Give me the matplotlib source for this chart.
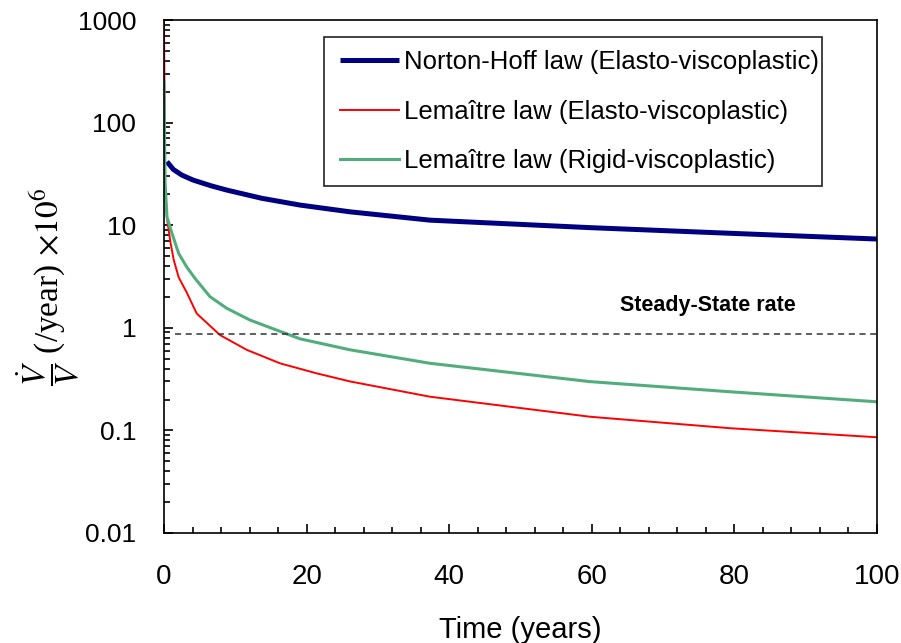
import numpy as np
import matplotlib
matplotlib.use('Agg')
import matplotlib.pyplot as plt
from matplotlib.ticker import MultipleLocator, LogLocator, NullFormatter
from matplotlib.patches import Rectangle

plt.rcParams['font.family'] = ['Liberation Sans', 'DejaVu Sans']
plt.rcParams['mathtext.fontset'] = 'stix'

# 그림에서 읽은 값 (years, rate x1e-6 /year)
t_norton = [0.42, 1.3, 2.5, 4.1, 6.7, 8.8, 13.7, 19.1, 26.1, 37.3, 59.7, 79.4, 100]
v_norton = [41.6, 35, 30.8, 27.5, 24.1, 22, 18.3, 15.7, 13.5, 11.2, 9.47, 8.34, 7.33]

t_lem_ev = [0, 0.15, 0.42, 0.89, 1.36, 2.06, 3.2, 4.58, 7.85, 11.6, 16.3, 21.4,
            26.1, 37.3, 59.7, 79.4, 100]
v_lem_ev = [1000, 25, 11.7, 6.9, 4.6, 3.1, 2.2, 1.38, 0.85, 0.61, 0.45, 0.36,
            0.30, 0.213, 0.136, 0.105, 0.0857]

t_lem_rv = [0, 0.15, 0.42, 1.1, 2.06, 3.2, 4.4, 6.45, 8.8, 12.06, 15.8, 19.1,
            26.1, 37.3, 59.7, 79.4, 100]
v_lem_rv = [250, 26, 12, 8.4, 5.3, 3.9, 3.0, 2.01, 1.55, 1.19, 0.95, 0.78,
            0.61, 0.451, 0.299, 0.238, 0.19]

ss_rate = 0.865
ss_t = [1.5, 100]

labels = ['Norton-Hoff law (Elasto-viscoplastic)',
          'Lemaître law (Elasto-viscoplastic)',
          'Lemaître law (Rigid-viscoplastic)']

fig = plt.figure(figsize=(9.01, 6.43), dpi=100)
ax = fig.add_axes([164/901, 110/643, 713/901, 513/643])

l1, = ax.plot(t_norton, v_norton, color='#000080', lw=3.6, solid_capstyle='butt')
l2, = ax.plot(t_lem_ev, v_lem_ev, color='#ff0000', lw=1.4)
l3, = ax.plot(t_lem_rv, v_lem_rv, color='#52ad7c', lw=2.2)
ax.plot(ss_t, [ss_rate, ss_rate], color='#333333', lw=1.1, dashes=(4, 3))

ax.set_yscale('log')
ax.set_xlim(0, 100)
ax.set_ylim(0.01, 1000)

ax.set_yticks([0.01, 0.1, 1, 10, 100, 1000])
ax.set_yticklabels(['0.01', '0.1', '1', '10', '100', '1000'])
ax.yaxis.set_minor_locator(LogLocator(base=10, subs=np.arange(2, 10)))
ax.yaxis.set_minor_formatter(NullFormatter())
ax.xaxis.set_major_locator(MultipleLocator(20))
ax.xaxis.set_minor_locator(MultipleLocator(4))

ax.tick_params(which='both', direction='in', top=False, right=False, width=1.2)
ax.tick_params(which='major', length=6.5)
ax.tick_params(which='minor', length=4)
ax.tick_params(axis='y', labelsize=19, pad=20)
ax.tick_params(axis='x', labelsize=20, pad=22)
for s in ax.spines.values():
    s.set_linewidth(1.2)

ax.set_xlabel('Time (years)', fontsize=21, labelpad=19)
ax.set_ylabel(r'$\dfrac{\dot{V}}{V}$ (/year) $\times 10^{6}$', fontsize=24,
              family='Liberation Serif', va='center')
ax.yaxis.set_label_coords(-0.162, 0.48)

ax.text((708-164)/713, 1-(305-20)/513, 'Steady-State rate', transform=ax.transAxes,
        fontsize=15.5, fontweight='bold', ha='center', va='center')

leg = ax.legend([l1, l2, l3], labels, loc='upper left', frameon=False,
                bbox_to_anchor=((340-164)/713, 1-(50-20)/513), borderaxespad=0,
                borderpad=0, fontsize=18.5, handlelength=2.3, handletextpad=0.2,
                labelspacing=1.0)
ax.add_patch(Rectangle(((324-164)/713, 1-(186-20)/513), (822-324)/713, (186-37)/513,
                       transform=ax.transAxes, fill=False, edgecolor='#222222',
                       lw=1.2, zorder=5))

fig.savefig('out.png', dpi=100)
